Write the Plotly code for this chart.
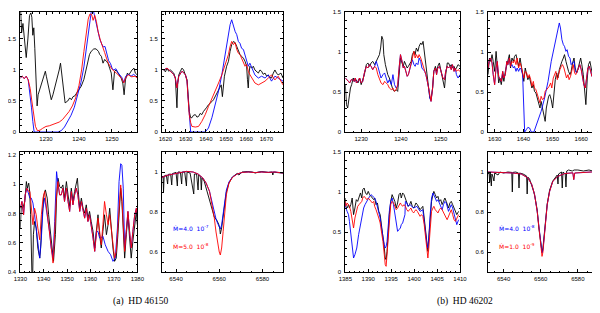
import plotly.graph_objects as go

# ---------------- data (wavelength in Angstrom, normalised flux) ----------------
# Panel 1: HD 46150, N V 1240
P1_OBS = [(1222.3,1.95),(1222.6,1.6),(1223.0,1.75),(1223.5,1.5),(1224.0,1.2),(1224.5,1.5),(1225.0,1.88),(1225.4,1.92),
          (1225.7,1.85),(1226.0,1.56),(1226.3,1.68),(1226.6,1.35),(1226.9,0.98),(1227.1,0.5),(1227.3,0.42),(1227.6,0.6),
          (1228.2,0.71),(1228.8,0.79),(1229.4,0.92),(1229.8,0.98),(1230.1,0.9),(1230.6,0.76),(1231.1,0.66),(1231.6,0.52),
          (1232.1,0.6),(1232.8,0.74),(1233.4,0.87),(1234.0,1.0),(1234.4,1.11),(1234.8,0.92),(1235.4,0.6),(1235.8,0.47),
          (1236.6,0.5),(1237.2,0.55),(1237.7,0.52),(1238.2,0.57),(1238.7,0.58),(1239.7,0.66),(1240.7,0.74),(1241.5,0.85),
          (1242.2,1.0),(1242.7,1.12),(1243.2,1.25),(1243.7,1.30),(1244.5,1.34),(1245.2,1.34),(1245.9,1.30),(1246.3,1.25),
          (1246.8,1.22),(1247.3,1.11),(1247.8,1.17),(1248.3,1.14),(1248.8,1.11),(1249.3,1.03),(1249.8,0.95),(1250.3,0.68),
          (1250.8,0.98),(1251.3,1.0),(1251.8,0.95),(1252.3,0.92),(1252.8,0.87),(1253.3,0.79),(1253.7,0.6),(1254.1,0.84),
          (1254.7,0.95),(1255.1,0.92),(1255.7,0.98),(1256.1,1.0),(1256.7,1.03),(1257.1,0.95),(1257.7,0.92)]
P1_HIGH = [(1222.2,0.87),(1222.8,0.9),(1223.4,0.86),(1224.0,0.9),(1224.6,0.84),(1225.2,0.6),(1225.6,0.39),(1226.0,0.17),
           (1226.4,0.0),(1233.6,0.0),(1234.6,0.02),(1235.6,0.08),(1236.6,0.17),(1237.6,0.27),(1238.6,0.4),(1239.6,0.58),
           (1240.6,0.8),(1241.5,1.05),(1242.2,1.35),(1242.8,1.62),(1243.3,1.85),(1243.8,1.97),(1244.4,1.95),(1245.0,1.8),
           (1245.6,1.65),(1246.3,1.5),(1246.9,1.42),(1247.4,1.37),(1247.9,1.38),(1248.5,1.25),(1249.0,1.15),(1249.6,1.1),
           (1250.1,1.02),(1250.6,1.0),(1251.2,1.02),(1251.8,0.96),(1252.4,0.92),(1253.0,0.88),(1253.6,0.8),(1254.2,0.9),
           (1255.0,0.93),(1255.8,0.9),(1256.6,0.93),(1257.7,0.88)]
P1_LOW = [(1222.2,0.87),(1222.8,0.9),(1223.4,0.86),(1224.0,0.9),(1224.6,0.84),(1225.2,0.7),(1225.7,0.5),(1226.2,0.28),
          (1226.8,0.09),(1227.4,0.02),(1228.2,0.03),(1229.0,0.06),(1230.0,0.09),(1231.0,0.1),(1232.0,0.12),(1233.0,0.13),
          (1234.0,0.16),(1235.0,0.2),(1236.0,0.26),(1237.0,0.33),(1238.0,0.42),(1239.0,0.55),(1240.0,0.75),(1240.8,1.0),
          (1241.5,1.3),(1242.2,1.6),(1242.8,1.82),(1243.3,1.9),(1243.8,1.9),(1244.3,1.8),(1244.8,1.88),(1245.3,1.78),
          (1245.8,1.62),(1246.5,1.48),(1247.2,1.35),(1247.8,1.28),(1248.4,1.18),(1249.0,1.1),(1249.8,1.03),(1250.6,0.98),
          (1251.4,0.95),(1252.2,0.9),(1253.0,0.86),(1253.6,0.79),(1254.2,0.88),(1255.0,0.92),(1256.0,0.89),(1257.0,0.9),
          (1257.7,0.87)]

# Panel 2: HD 46150, C IV 1550
P2_OBS = [(1619.2,1.0),(1620.0,0.97),(1620.8,1.03),(1621.6,0.98),(1622.5,1.0),(1623.3,0.97),(1624.1,0.95),(1624.9,0.87),
          (1625.3,0.6),(1625.7,0.39),(1626.1,0.8),(1626.6,0.92),(1627.4,0.98),(1628.2,1.03),(1629.0,1.0),(1629.9,0.92),
          (1630.7,0.84),(1631.1,0.66),(1631.8,0.33),(1632.5,0.23),(1633.1,0.23),(1633.9,0.27),(1634.8,0.28),(1635.6,0.24),
          (1636.4,0.25),(1637.2,0.3),(1638.0,0.28),(1638.8,0.33),(1639.7,0.36),(1640.5,0.4),(1641.3,0.44),(1642.2,0.46),
          (1643.0,0.49),(1643.8,0.52),(1644.6,0.57),(1645.4,0.6),(1646.3,0.66),(1647.0,0.72),(1647.6,0.76),(1648.2,0.57),
          (1648.7,0.8),(1649.2,0.9),(1650.3,1.06),(1651.2,1.14),(1652.0,1.3),(1652.8,1.41),(1653.7,1.46),(1654.5,1.44),
          (1655.3,1.38),(1656.1,1.3),(1656.9,1.25),(1657.7,1.22),(1658.6,1.19),(1659.4,1.14),(1660.2,1.06),(1660.6,0.85),
          (1661.0,0.71),(1661.4,0.95),(1661.8,1.06),(1662.7,1.03),(1663.5,1.06),(1664.3,1.0),(1665.1,0.97),(1666.0,0.95),
          (1666.8,1.0),(1667.6,0.98),(1668.4,0.93),(1669.3,0.95),(1670.1,0.9),(1670.9,0.92),(1671.7,0.88),(1672.5,0.87),
          (1673.4,0.95),(1674.2,1.0),(1675.0,0.95),(1675.8,0.92),(1677.2,0.95),(1678.2,0.87)]
P2_HIGH = [(1619.2,1.0),(1620.8,1.03),(1622.5,0.98),(1624.1,0.925),(1624.9,0.87),(1625.7,0.71),(1626.6,0.9),(1628.2,0.98),
           (1629.9,0.925),(1630.7,0.82),(1631.1,0.6),(1631.8,0.23),(1632.5,0.0),(1639.7,0.0),(1641.3,0.065),(1643.0,0.23),
           (1644.6,0.44),(1646.3,0.66),(1647.9,0.92),(1649.6,1.25),(1651.2,1.57),(1652.0,1.73),(1652.8,1.81),(1653.7,1.7),
           (1654.5,1.62),(1655.3,1.57),(1656.1,1.46),(1656.9,1.43),(1657.7,1.35),(1658.6,1.33),(1659.4,1.25),(1660.2,1.17),
           (1661.0,1.06),(1661.8,1.11),(1662.7,1.03),(1664.3,0.92),(1666.0,0.87),(1667.6,0.9),(1669.3,0.87),(1670.9,0.92),
           (1672.5,0.82),(1674.2,0.9),(1675.8,0.87),(1678.2,0.82)]
P2_LOW = [(1619.2,1.0),(1620.8,1.03),(1622.5,0.98),(1624.1,0.925),(1624.9,0.87),(1625.7,0.71),(1626.6,0.9),(1628.2,0.98),
          (1629.9,0.925),(1630.7,0.82),(1631.1,0.6),(1631.8,0.28),(1632.5,0.15),(1633.1,0.09),(1634.8,0.08),(1636.4,0.09),
          (1638.0,0.17),(1639.7,0.28),(1641.3,0.41),(1643.0,0.55),(1644.6,0.66),(1646.3,0.79),(1647.9,0.92),(1649.6,1.09),
          (1651.2,1.25),(1652.0,1.38),(1652.8,1.46),(1653.7,1.41),(1654.5,1.44),(1655.3,1.33),(1656.1,1.27),(1656.9,1.25),
          (1657.7,1.19),(1658.6,1.11),(1659.4,1.06),(1660.2,1.09),(1661.0,0.98),(1661.8,0.925),(1662.7,0.87),(1664.3,0.79),
          (1666.0,0.76),(1667.6,0.79),(1669.3,0.82),(1670.9,0.87),(1672.5,0.92),(1674.2,0.84),(1675.8,0.9),(1678.2,0.76)]

# Panel 3: HD 46150, 1330-1380
P3_OBS = [(1330.0,0.70),(1330.4,0.848),(1331.1,0.836),(1331.9,0.882),(1332.6,1.018),(1333.0,0.973),(1333.6,1.007),
          (1334.0,0.95),(1334.4,0.791),(1334.7,0.564),(1335.0,0.36),(1335.3,0.38),(1335.6,0.655),(1336.1,0.745),
          (1336.8,0.70),(1337.5,0.564),(1338.3,0.495),(1338.7,0.564),(1339.3,0.768),(1340.1,0.927),(1340.7,0.961),
          (1341.5,0.905),(1342.1,0.791),(1342.8,0.677),(1343.5,0.564),(1344.2,0.473),(1345.0,0.655),(1345.5,0.905),
          (1346.1,1.041),(1346.8,0.984),(1347.5,0.973),(1348.2,0.995),(1348.9,0.905),(1349.7,1.018),(1350.4,0.927),
          (1351.1,0.848),(1351.8,0.973),(1352.5,0.882),(1353.2,0.95),(1353.9,1.018),(1354.4,1.041),(1354.9,0.927),
          (1355.4,0.836),(1356.1,0.905),(1356.8,0.836),(1357.5,0.802),(1358.2,0.859),(1358.9,0.768),(1359.6,0.814),
          (1360.3,0.745),(1361.1,0.677),(1361.8,0.564),(1362.5,0.70),(1363.2,0.791),(1363.9,0.655),(1364.6,0.564),
          (1365.3,0.677),(1366.0,0.791),(1366.8,0.655),(1367.5,0.723),(1368.2,0.836),(1368.9,0.677),(1369.6,0.564),
          (1370.3,0.473),(1371.0,0.495),(1371.7,0.655),(1372.4,0.836),(1372.9,0.973),(1373.4,0.882),(1373.9,0.677),
          (1374.6,0.495),(1375.3,0.655),(1376.0,0.791),(1376.7,0.632),(1377.4,0.495),(1378.1,0.609),(1378.9,0.745),
          (1379.6,0.814),(1380.0,0.723)]
P3_HIGH = [(1330.0,0.836),(1330.7,0.882),(1331.4,0.791),(1332.1,0.927),(1332.8,0.973),(1333.6,0.927),(1334.1,0.905),
           (1334.7,0.905),(1335.4,0.871),(1336.1,0.791),(1336.8,0.70),(1337.5,0.586),(1338.3,0.495),(1339.0,0.632),
           (1339.7,0.836),(1340.4,0.905),(1341.1,0.836),(1341.8,0.745),(1342.5,0.677),(1343.2,0.564),(1344.0,0.495),
           (1344.7,0.745),(1345.2,1.0),(1345.5,1.086),(1346.1,1.0),(1346.8,0.927),(1347.5,0.927),(1348.2,0.973),
           (1348.9,0.882),(1349.7,0.973),(1350.4,0.882),(1351.1,0.814),(1351.8,0.95),(1352.5,0.859),(1353.2,0.927),
           (1353.9,0.973),(1354.6,0.927),(1355.4,0.814),(1356.1,0.882),(1356.8,0.814),(1357.5,0.768),(1358.2,0.836),
           (1358.9,0.745),(1359.6,0.791),(1360.3,0.723),(1361.1,0.632),(1361.8,0.541),(1362.5,0.677),(1363.2,0.677),
           (1363.9,0.632),(1364.3,0.632),(1365.3,0.645),(1366.3,0.586),(1367.5,0.541),(1368.6,0.518),(1369.6,0.473),
           (1370.6,0.495),(1371.5,0.70),(1372.2,1.018),(1372.9,1.14),(1373.4,1.13),(1374.0,0.973),(1374.6,0.564),
           (1375.3,0.677),(1376.0,0.814),(1376.7,0.677),(1377.4,0.564),(1378.1,0.677),(1378.9,0.791),(1379.6,0.836),
           (1380.0,0.791)]
P3_LOW = [(1330.0,0.836),(1330.7,0.882),(1331.4,0.791),(1332.1,0.927),(1332.8,0.973),(1333.6,0.95),(1334.1,0.95),
          (1334.7,0.859),(1335.4,0.723),(1336.1,0.836),(1336.8,0.791),(1337.5,0.70),(1338.3,0.62),(1339.0,0.791),
          (1339.7,0.905),(1340.4,0.95),(1341.1,0.859),(1341.8,0.745),(1342.5,0.677),(1343.2,0.564),(1344.0,0.461),
          (1344.7,0.677),(1345.4,0.905),(1346.1,1.018),(1346.8,0.927),(1347.5,0.927),(1348.2,0.973),(1348.9,0.882),
          (1349.7,0.973),(1350.4,0.882),(1351.1,0.814),(1351.8,0.95),(1352.5,0.859),(1353.2,0.927),(1353.9,0.973),
          (1354.6,0.927),(1355.4,0.814),(1356.1,0.882),(1356.8,0.814),(1357.5,0.768),(1358.2,0.836),(1358.9,0.745),
          (1359.6,0.791),(1360.3,0.723),(1361.1,0.632),(1361.8,0.541),(1362.5,0.677),(1363.2,0.768),(1363.9,0.677),
          (1364.6,0.586),(1365.3,0.723),(1366.0,0.882),(1366.8,0.791),(1367.5,0.723),(1368.2,0.791),(1368.9,0.677),
          (1369.6,0.586),(1370.3,0.495),(1371.0,0.541),(1371.7,0.70),(1372.4,0.859),(1372.9,0.995),(1373.4,0.905),
          (1373.9,0.70),(1374.6,0.541),(1375.3,0.677),(1376.0,0.814),(1376.7,0.677),(1377.4,0.564),(1378.1,0.677),
          (1378.9,0.791),(1379.6,0.836),(1380.0,0.791)]

# Panel 4: HD 46150, H alpha
P4_OBS = [(6533.5,0.975),(6534.0,0.98),(6534.2,0.9),(6534.5,0.98),(6535.5,0.985),(6536.1,0.94),(6536.4,0.988),
          (6537.5,0.99),(6538.0,0.935),(6538.3,0.992),(6540.0,0.998),(6540.6,0.93),(6540.9,1.0),(6542.0,1.0),
          (6542.6,0.94),(6542.9,1.0),(6544.0,1.0),(6544.8,0.93),(6545.1,1.0),(6546.5,0.995),(6548.2,0.89),(6548.5,0.99),
          (6549.5,0.99),(6550.2,0.91),(6550.5,0.985),(6551.4,0.975),(6551.7,0.91),(6552.0,0.97),(6553.0,0.955),
          (6553.9,0.92),(6555.5,0.86),(6556.7,0.82),(6557.7,0.775),(6558.8,0.76),(6559.7,0.74),(6560.2,0.72),
          (6560.5,0.69),(6561.1,0.72),(6561.8,0.787),(6562.6,0.853),(6563.3,0.9),(6564.5,0.945),(6566.1,0.975),
          (6568.3,0.993),(6569.1,0.985),(6570.6,1.0),(6572.9,1.002),(6575.2,1.0),(6576.7,0.995),(6578.2,1.0),
          (6579.7,1.002),(6582.7,0.998),(6584.5,1.0),(6584.8,0.985),(6585.1,1.0),(6587.0,0.997),(6589.5,0.995)]
P4_HIGH = [(6533.5,0.973),(6535.8,0.983),(6538.8,0.99),(6541.8,0.998),(6544.8,1.003),(6547.9,1.0),(6550.2,0.99),
           (6552.4,0.97),(6553.9,0.945),(6555.5,0.903),(6556.7,0.845),(6557.7,0.79),(6558.5,0.765),(6559.2,0.745),
           (6560.0,0.73),(6560.5,0.715),(6561.1,0.735),(6561.8,0.787),(6562.6,0.853),(6563.3,0.91),(6564.5,0.95),
           (6566.1,0.975),(6568.3,0.99),(6570.6,0.998),(6573.6,1.0),(6576.7,0.997),(6579.7,1.0),(6582.7,0.998),
           (6585.8,1.0),(6589.5,0.995)]
P4_LOW = [(6533.5,0.973),(6535.8,0.983),(6538.8,0.99),(6541.8,0.998),(6544.8,1.003),(6547.9,1.0),(6550.2,0.99),
          (6552.4,0.97),(6553.9,0.945),(6555.5,0.903),(6556.7,0.84),(6557.7,0.77),(6558.5,0.7),(6559.2,0.65),
          (6560.0,0.6),(6560.5,0.585),(6561.1,0.62),(6561.8,0.703),(6562.6,0.803),(6563.3,0.887),(6564.5,0.945),
          (6566.1,0.973),(6568.3,0.99),(6570.6,0.998),(6573.6,1.0),(6576.7,0.997),(6579.7,1.0),(6582.7,0.998),
          (6585.8,1.0),(6589.5,0.995)]

# Panel 5: HD 46202, N V 1240
P5_OBS = [(1226.0,0.59),(1226.3,0.342),(1226.6,0.3),(1227.0,0.467),(1227.3,0.55),(1227.6,0.592),(1228.0,0.675),
          (1228.3,0.633),(1228.7,0.654),(1229.2,0.613),(1229.6,0.675),(1230.0,0.592),(1230.4,0.654),(1230.8,0.717),
          (1231.3,0.842),(1231.7,0.863),(1232.1,0.821),(1232.5,0.863),(1232.9,0.883),(1233.4,0.842),(1233.8,0.883),
          (1234.2,0.925),(1234.6,0.967),(1234.9,1.05),(1235.2,1.196),(1235.5,1.154),(1235.7,0.967),(1236.1,0.842),
          (1236.4,0.758),(1236.7,0.717),(1237.1,0.675),(1237.6,0.592),(1238.0,0.529),(1238.4,0.508),(1238.8,0.529),
          (1239.2,0.508),(1239.6,0.717),(1239.9,0.925),(1240.3,0.863),(1240.6,0.821),(1240.9,0.883),(1241.3,0.842),
          (1241.6,0.8),(1241.9,0.821),(1242.3,0.863),(1242.6,0.883),(1242.9,0.967),(1243.3,1.008),(1243.6,0.967),
          (1243.9,1.05),(1244.3,1.008),(1244.6,1.071),(1245.0,1.113),(1245.3,1.092),(1245.6,1.133),(1246.0,0.967),
          (1246.3,0.821),(1246.6,0.717),(1247.0,0.592),(1247.3,0.425),(1247.6,0.404),(1248.0,0.55),(1248.3,0.758),
          (1248.7,0.821),(1249.0,0.758),(1249.3,0.821),(1249.7,0.863),(1250.0,0.8),(1250.3,0.717),(1250.6,0.654),
          (1251.0,0.55),(1251.3,0.717),(1251.7,0.863),(1252.0,0.863),(1252.4,0.821),(1252.7,0.842),(1253.0,0.8),
          (1253.4,0.821),(1253.7,0.779),(1254.0,0.8),(1254.4,0.842),(1254.9,0.821)]
P5_HIGH = [(1226.0,0.675),(1226.5,0.654),(1226.8,0.633),(1227.1,0.613),(1227.5,0.654),(1227.8,0.654),(1228.2,0.633),
           (1228.5,0.675),(1228.8,0.613),(1229.2,0.633),(1229.6,0.675),(1230.0,0.613),(1230.4,0.633),(1230.8,0.738),
           (1231.3,0.821),(1231.7,0.8),(1232.1,0.842),(1232.5,0.821),(1232.9,0.779),(1233.4,0.821),(1233.8,0.883),
           (1234.2,0.821),(1234.6,0.758),(1235.0,0.675),(1235.5,0.717),(1235.9,0.738),(1236.3,0.675),(1236.7,0.613),
           (1237.1,0.654),(1237.6,0.592),(1238.0,0.717),(1238.4,0.592),(1238.8,0.55),(1239.2,0.571),(1239.6,0.821),
           (1239.9,0.967),(1240.3,0.883),(1240.6,0.8),(1240.9,0.821),(1241.3,0.758),(1241.6,0.696),(1241.9,0.717),
           (1242.3,0.8),(1242.6,0.863),(1242.9,0.904),(1243.3,0.842),(1243.6,0.821),(1243.9,0.863),(1244.3,0.842),
           (1244.6,0.925),(1245.0,0.883),(1245.3,0.8),(1245.6,0.779),(1246.0,0.758),(1246.3,0.717),(1246.6,0.654),
           (1247.0,0.55),(1247.3,0.425),(1247.6,0.383),(1248.0,0.55),(1248.3,0.758),(1248.7,0.8),(1249.0,0.717),
           (1249.3,0.8),(1249.7,0.821),(1250.0,0.779),(1250.3,0.717),(1250.6,0.675),(1251.0,0.654),(1251.3,0.758),
           (1251.7,0.821),(1252.0,0.8),(1252.4,0.821),(1252.7,0.779),(1253.0,0.842),(1253.4,0.758),(1253.7,0.8),
           (1254.0,0.717),(1254.4,0.675),(1254.9,0.717)]
P5_LOW = [(1226.0,0.675),(1226.5,0.654),(1226.8,0.633),(1227.1,0.613),(1227.5,0.654),(1227.8,0.654),(1228.2,0.633),
          (1228.5,0.675),(1228.8,0.613),(1229.2,0.633),(1229.6,0.675),(1230.0,0.613),(1230.4,0.633),(1230.8,0.738),
          (1231.3,0.821),(1231.7,0.8),(1232.1,0.842),(1232.5,0.821),(1232.9,0.779),(1233.4,0.821),(1233.8,0.8),
          (1234.2,0.717),(1234.6,0.654),(1235.0,0.613),(1235.5,0.592),(1235.9,0.633),(1236.3,0.613),(1236.7,0.592),
          (1237.1,0.55),(1237.6,0.529),(1238.0,0.55),(1238.4,0.508),(1238.8,0.529),(1239.2,0.592),(1239.6,0.821),
          (1239.9,0.967),(1240.3,0.883),(1240.6,0.8),(1240.9,0.821),(1241.3,0.758),(1241.6,0.696),(1241.9,0.717),
          (1242.3,0.8),(1242.6,0.863),(1242.9,0.904),(1243.3,1.008),(1243.6,0.925),(1243.9,0.967),(1244.3,0.925),
          (1244.6,0.967),(1245.0,0.925),(1245.3,0.883),(1245.6,0.821),(1246.0,0.779),(1246.3,0.717),(1246.6,0.654),
          (1247.0,0.55),(1247.3,0.425),(1247.6,0.383),(1248.0,0.55),(1248.3,0.758),(1248.7,0.8),(1249.0,0.717),
          (1249.3,0.8),(1249.7,0.821),(1250.0,0.779),(1250.3,0.717),(1250.6,0.675),(1251.0,0.654),(1251.3,0.758),
          (1251.7,0.821),(1252.0,0.8),(1252.4,0.821),(1252.7,0.779),(1253.0,0.842),(1253.4,0.758),(1253.7,0.8),
          (1254.0,0.758),(1254.4,0.779),(1254.9,0.758)]

# Panel 6: HD 46202, C IV 1550
P6_OBS = [(1627.7,0.717),(1628.2,0.925),(1628.6,0.883),(1629.1,0.967),(1629.5,0.883),(1630.0,0.758),(1630.5,1.008),
          (1630.9,0.8),(1631.4,0.613),(1631.8,0.675),(1632.3,0.592),(1632.8,0.717),(1633.2,0.633),(1633.7,0.758),
          (1634.2,0.842),(1634.6,0.883),(1635.1,0.967),(1635.5,0.8),(1636.0,0.925),(1636.5,0.883),(1636.9,0.946),
          (1637.4,0.967),(1637.8,0.883),(1638.3,0.821),(1638.8,0.925),(1639.2,0.842),(1639.7,0.758),(1640.1,0.633),
          (1640.6,0.8),(1641.1,0.717),(1641.5,0.654),(1642.0,0.696),(1642.5,0.613),(1642.9,0.55),(1643.4,0.592),
          (1643.8,0.508),(1644.3,0.488),(1644.8,0.425),(1645.2,0.342),(1645.7,0.3),(1646.1,0.383),(1646.6,0.3),
          (1647.1,0.217),(1647.5,0.133),(1647.9,0.3),(1648.2,0.363),(1648.7,0.446),(1649.1,0.467),(1649.6,0.404),
          (1650.1,0.3),(1650.5,0.508),(1651.0,0.654),(1651.5,0.738),(1651.9,0.675),(1652.4,0.779),(1652.8,0.842),
          (1653.3,0.883),(1653.8,0.925),(1654.2,0.967),(1654.7,0.883),(1655.1,0.821),(1655.6,0.758),(1656.1,0.717),
          (1656.5,0.758),(1657.0,0.863),(1657.5,0.925),(1657.9,0.8),(1658.4,0.738),(1658.8,0.779),(1659.3,0.842),
          (1659.8,0.925),(1660.2,0.842),(1660.7,0.717),(1661.1,0.55),(1661.6,0.342),(1662.1,0.675),(1662.5,0.842),
          (1663.0,0.883),(1663.4,0.8),(1663.9,0.717),(1664.4,0.8),(1664.8,0.863),(1665.3,0.717),(1665.8,0.633),
          (1666.2,0.8),(1666.7,0.904),(1667.1,0.863),(1667.6,0.717),(1668.1,0.592),(1668.4,0.508)]
P6_HIGH = [(1627.7,0.8),(1628.2,0.904),(1628.6,0.925),(1629.1,0.863),(1629.5,0.717),(1630.0,0.592),(1630.5,0.8),
           (1630.9,0.883),(1631.4,0.696),(1631.8,0.675),(1632.3,0.633),(1632.8,0.758),(1633.2,0.675),(1633.7,0.717),
           (1634.2,0.883),(1634.6,0.842),(1635.1,0.925),(1635.5,0.821),(1636.0,0.842),(1636.5,0.8),(1636.9,0.821),
           (1637.4,0.758),(1637.8,0.8),(1638.3,0.758),(1638.8,0.8),(1639.2,0.779),(1639.7,0.717),(1639.9,0.5),
           (1640.1,0.2),(1640.4,0.0),(1641.0,0.03),(1641.5,0.058),(1642.1,0.05),(1642.7,0.0),(1643.6,0.0),
           (1644.1,0.05),(1645.0,0.133),(1646.1,0.258),(1647.3,0.425),(1648.5,0.633),(1649.6,0.883),(1650.8,1.092),
           (1651.7,1.258),(1652.4,1.363),(1652.8,1.3),(1653.3,1.154),(1653.8,1.092),(1654.2,1.071),(1654.7,1.008),
           (1655.1,1.029),(1655.6,0.946),(1656.1,0.925),(1656.5,0.842),(1657.0,0.863),(1657.5,0.883),(1657.9,0.758),
           (1658.4,0.738),(1658.6,0.758),(1659.1,0.8),(1659.5,0.842),(1660.0,0.779),(1660.4,0.696),(1660.9,0.592),
           (1661.4,0.55),(1661.8,0.675),(1662.3,0.8),(1662.8,0.821),(1663.2,0.758),(1663.7,0.696),(1664.1,0.758),
           (1664.6,0.821),(1665.1,0.738),(1665.5,0.654),(1666.0,0.758),(1666.4,0.842),(1666.9,0.883),(1667.4,0.738),
           (1667.8,0.55),(1668.4,0.467)]
P6_LOW = [(1627.7,0.8),(1628.2,0.904),(1628.6,0.925),(1629.1,0.863),(1629.5,0.717),(1630.0,0.592),(1630.5,0.8),
          (1630.9,0.883),(1631.4,0.696),(1631.8,0.675),(1632.3,0.633),(1632.8,0.758),(1633.2,0.675),(1633.7,0.717),
          (1634.2,0.883),(1634.6,0.842),(1635.1,0.925),(1635.5,0.821),(1636.0,0.883),(1636.5,0.863),(1636.9,0.904),
          (1637.4,0.842),(1637.8,0.925),(1638.3,0.8),(1638.8,0.863),(1639.2,0.821),(1639.7,0.758),(1640.1,0.675),
          (1640.6,0.758),(1641.1,0.738),(1641.5,0.675),(1642.0,0.717),(1642.5,0.654),(1642.9,0.571),(1643.4,0.633),
          (1643.8,0.55),(1644.3,0.529),(1644.8,0.467),(1645.2,0.425),(1645.7,0.363),(1646.1,0.446),(1646.6,0.404),
          (1647.1,0.425),(1647.5,0.508),(1648.0,0.529),(1648.5,0.55),(1648.9,0.571),(1649.4,0.613),(1649.8,0.55),
          (1650.3,0.675),(1650.8,0.717),(1651.2,0.758),(1651.7,0.654),(1652.1,0.717),(1652.6,0.779),(1653.1,0.821),
          (1653.5,0.842),(1654.0,0.8),(1654.5,0.738),(1654.9,0.675),(1655.4,0.717),(1655.8,0.654),(1656.3,0.696),
          (1656.8,0.8),(1657.2,0.842),(1657.7,0.738),(1658.1,0.717),(1658.6,0.758),(1659.1,0.8),(1659.5,0.842),
          (1660.0,0.779),(1660.4,0.696),(1660.9,0.592),(1661.4,0.55),(1661.8,0.675),(1662.3,0.8),(1662.8,0.821),
          (1663.2,0.758),(1663.7,0.696),(1664.1,0.758),(1664.6,0.821),(1665.1,0.738),(1665.5,0.654),(1666.0,0.758),
          (1666.4,0.842),(1666.9,0.883),(1667.4,0.738),(1667.8,0.55),(1668.4,0.467)]

# Panel 7: HD 46202, Si IV 1394/1403
P7_OBS = [(1385.0,0.925),(1385.1,0.821),(1385.4,0.8),(1385.7,0.842),(1385.9,0.8),(1386.2,0.842),(1386.5,0.925),
          (1386.8,0.717),(1387.1,0.8),(1387.4,0.904),(1387.7,0.883),(1388.0,0.946),(1388.3,0.988),(1388.6,0.925),
          (1388.8,1.029),(1389.1,1.05),(1389.4,0.988),(1389.7,0.967),(1390.0,1.008),(1390.3,0.967),(1390.6,0.946),
          (1390.9,0.925),(1391.2,0.904),(1391.4,0.925),(1391.7,0.842),(1392.0,0.863),(1392.3,0.758),(1392.6,0.717),
          (1392.9,0.592),(1393.2,0.467),(1393.5,0.3),(1393.7,0.175),(1393.9,0.154),(1394.1,0.258),(1394.3,0.467),
          (1394.6,0.717),(1394.9,0.883),(1395.2,0.967),(1395.5,0.925),(1395.8,0.883),(1396.1,0.8),(1396.4,0.863),
          (1396.7,0.967),(1397.0,0.988),(1397.2,0.925),(1397.5,0.988),(1397.8,0.967),(1398.1,0.925),(1398.4,0.883),
          (1398.7,0.821),(1399.0,0.842),(1399.3,0.883),(1399.6,0.821),(1399.9,0.8),(1400.1,0.821),(1400.4,0.863),
          (1400.7,0.842),(1401.0,0.8),(1401.3,0.779),(1401.6,0.8),(1401.9,0.821),(1402.2,0.675),(1402.5,0.508),
          (1402.8,0.342),(1403.0,0.258),(1403.2,0.425),(1403.5,0.717),(1403.8,0.883),(1404.1,0.967),(1404.3,1.008),
          (1404.6,0.967),(1404.9,0.925),(1405.2,0.946),(1405.5,0.883),(1405.8,0.904),(1406.1,0.842),(1406.4,0.883),
          (1406.7,0.925),(1407.0,0.883),(1407.2,0.842),(1407.5,0.8),(1407.8,0.863),(1408.1,0.883),(1408.4,0.842),
          (1408.7,0.8),(1409.0,0.758),(1409.3,0.717),(1409.7,0.758)]
P7_HIGH = [(1385.0,0.863),(1385.1,0.8),(1385.4,0.758),(1385.7,0.717),(1385.9,0.633),(1386.2,0.467),(1386.5,0.3),
           (1386.8,0.175),(1387.1,0.217),(1387.5,0.3),(1387.9,0.467),(1388.3,0.592),(1388.6,0.717),(1389.0,0.8),
           (1389.3,0.842),(1389.7,0.883),(1390.0,0.925),(1390.3,0.946),(1390.6,0.967),(1390.9,0.946),(1391.2,0.925),
           (1391.4,0.925),(1391.7,0.883),(1392.0,0.821),(1392.3,0.758),(1392.6,0.675),(1392.9,0.55),(1393.2,0.425),
           (1393.5,0.342),(1393.7,0.3),(1393.9,0.321),(1394.1,0.383),(1394.3,0.55),(1394.6,0.758),(1394.9,0.883),
           (1395.2,0.925),(1395.5,0.842),(1395.8,0.717),(1396.1,0.633),(1396.4,0.508),(1396.7,0.529),(1397.0,0.55),
           (1397.2,0.592),(1397.5,0.613),(1397.8,0.675),(1398.0,0.717),(1398.1,0.883),(1398.4,0.863),(1398.7,0.821),
           (1399.1,0.842),(1399.9,0.8),(1400.6,0.821),(1401.3,0.758),(1401.9,0.779),(1402.2,0.633),(1402.5,0.467),
           (1402.8,0.342),(1403.0,0.3),(1403.2,0.425),(1403.5,0.717),(1403.8,0.925),(1404.1,0.988),(1404.3,0.967),
           (1404.6,0.925),(1404.9,0.883),(1405.2,0.904),(1405.5,0.863),(1405.8,0.821),(1406.1,0.779),(1406.4,0.842),
           (1406.7,0.883),(1407.0,0.863),(1407.2,0.821),(1407.5,0.758),(1407.8,0.8),(1408.1,0.842),(1408.4,0.8),
           (1408.7,0.738),(1409.0,0.654),(1409.3,0.592),(1409.7,0.654)]
P7_LOW = [(1385.0,0.883),(1385.1,0.821),(1385.4,0.863),(1385.7,0.842),(1385.9,0.821),(1386.2,0.758),(1386.5,0.654),
          (1386.8,0.55),(1387.1,0.675),(1387.4,0.758),(1387.7,0.821),(1388.0,0.842),(1388.3,0.863),(1388.6,0.883),
          (1388.8,0.925),(1389.1,0.946),(1389.4,0.925),(1389.7,0.904),(1390.0,0.925),(1390.3,0.904),(1390.6,0.883),
          (1390.9,0.863),(1391.2,0.883),(1391.4,0.821),(1391.7,0.779),(1392.0,0.738),(1392.3,0.675),(1392.6,0.613),
          (1392.9,0.508),(1393.2,0.383),(1393.5,0.217),(1393.7,0.092),(1393.9,0.071),(1394.1,0.217),(1394.3,0.425),
          (1394.6,0.675),(1394.9,0.842),(1395.2,0.883),(1395.5,0.863),(1395.8,0.821),(1396.1,0.779),(1396.4,0.8),
          (1396.7,0.842),(1397.0,0.863),(1397.2,0.842),(1397.5,0.821),(1397.8,0.842),(1398.1,0.821),(1398.4,0.779),
          (1398.7,0.758),(1399.0,0.779),(1399.3,0.8),(1399.6,0.758),(1399.9,0.738),(1400.1,0.758),(1400.4,0.779),
          (1400.7,0.758),(1401.0,0.717),(1401.3,0.696),(1401.6,0.717),(1401.9,0.696),(1402.2,0.592),(1402.5,0.425),
          (1402.8,0.258),(1403.0,0.175),(1403.2,0.3),(1403.5,0.592),(1403.8,0.758),(1404.1,0.8),(1404.3,0.821),
          (1404.6,0.779),(1404.9,0.758),(1405.2,0.738),(1405.5,0.779),(1405.8,0.8),(1406.1,0.779),(1406.4,0.738),
          (1406.7,0.717),(1407.0,0.675),(1407.2,0.654),(1407.5,0.696),(1407.8,0.738),(1408.1,0.779),(1408.4,0.717),
          (1408.7,0.654),(1409.0,0.633),(1409.3,0.675),(1409.7,0.717)]

# Panel 8: HD 46202, H alpha
P8_OBS = [(6531.6,0.99),(6532.2,0.995),(6532.5,0.95),(6532.8,0.995),(6533.4,0.93),(6533.7,0.99),(6534.3,0.975),
          (6534.8,0.955),(6535.2,0.995),(6537.0,0.985),(6538.0,1.0),(6540.0,0.995),(6542.3,1.0),(6544.4,0.998),
          (6544.7,0.9),(6545.0,0.998),(6546.5,1.0),(6548.0,0.995),(6548.3,0.92),(6548.6,0.995),(6550.5,0.99),
          (6552.4,0.98),(6552.7,0.89),(6553.0,0.975),(6554.0,0.965),(6555.2,0.935),(6556.3,0.9),(6557.0,0.87),
          (6558.1,0.81),(6559.0,0.72),(6559.7,0.66),(6560.3,0.625),(6560.7,0.6),(6561.2,0.62),(6561.5,0.65),
          (6562.4,0.74),(6563.5,0.84),(6564.8,0.91),(6566.5,0.955),(6568.9,0.985),(6569.3,0.94),(6569.6,0.99),
          (6571.2,1.0),(6571.6,0.92),(6572.0,1.0),(6573.2,0.99),(6573.6,0.925),(6574.0,1.005),(6575.0,1.01),
          (6577.0,1.005),(6578.0,1.01),(6580.0,1.01),(6583.0,1.005),(6586.0,1.01),(6590.0,1.0),(6594.9,1.0)]
P8_HIGH = [(6531.6,1.0),(6538.0,0.998),(6545.0,0.995),(6549.5,0.99),(6553.1,0.97),(6555.2,0.937),(6556.7,0.887),
           (6558.1,0.803),(6559.0,0.72),(6559.7,0.66),(6560.3,0.62),(6560.7,0.595),(6561.2,0.61),(6561.5,0.64),
           (6562.4,0.737),(6563.5,0.837),(6564.8,0.903),(6566.5,0.953),(6569.2,0.978),(6572.8,0.992),(6577.3,0.996),
           (6577.8,0.962),(6578.3,0.995),(6587.2,1.0),(6594.9,1.0)]
P8_LOW = [(6531.6,1.0),(6538.0,0.998),(6545.0,0.995),(6549.5,0.99),(6553.1,0.97),(6555.2,0.937),(6556.7,0.887),
          (6558.1,0.803),(6559.0,0.715),(6559.7,0.65),(6560.3,0.605),(6560.7,0.578),(6561.2,0.6),(6561.5,0.637),
          (6562.4,0.737),(6563.5,0.837),(6564.8,0.903),(6566.5,0.953),(6569.2,0.978),(6572.8,0.992),(6577.3,0.996),
          (6577.8,0.962),(6578.3,0.995),(6587.2,1.0),(6594.9,1.0)]

MDOT_LABELS_A = ["Ṁ=4.0  10<sup>-7</sup>", "Ṁ=5.0  10<sup>-8</sup>"]
MDOT_LABELS_B = ["Ṁ=4.0  10<sup>-8</sup>", "Ṁ=1.0  10<sup>-9</sup>"]
CAPTIONS = ["(a)  HD 46150", "(b)  HD 46202"]

# ---------------- layout helpers ----------------
W, H = 600, 313
def dx(a, b):
    return [a / W, b / W]
def dy(top, bottom):
    return [1 - bottom / H, 1 - top / H]

# (xdomain, ydomain, xrange, yrange, xdtick, xminor, ydtick, yminor, data)
PANELS = [
    (dx(12.3, 129.3), dy(4, 124), [1222.2, 1257.7], [0, 1.935], 10, 2, 0.5, 0.1, (P1_OBS, P1_HIGH, P1_LOW)),
    (dx(154, 275), dy(4, 124), [1618.3, 1678.2], [0, 1.935], 10, 2, 0.5, 0.1, (P2_OBS, P2_HIGH, P2_LOW)),
    (dx(12.3, 129.3), dy(144, 264), [1330, 1380], [0.4, 1.22], 10, 2, 0.2, 0.05, (P3_OBS, P3_HIGH, P3_LOW)),
    (dx(154, 275), dy(144, 264), [6533.5, 6589.5], [0.5, 1.1], 20, 5, 0.2, 0.05, (P4_OBS, P4_HIGH, P4_LOW)),
    (dx(337.3, 452), dy(4, 124), [1226.0, 1254.9], [0, 1.5], 10, 2, 0.5, 0.1, (P5_OBS, P5_HIGH, P5_LOW)),
    (dx(480, 597.5), dy(4, 124), [1627.7, 1668.4], [0, 1.5], 10, 2, 0.5, 0.1, (P6_OBS, P6_HIGH, P6_LOW)),
    (dx(337.3, 452), dy(144, 264), [1385, 1410], [0, 1.5], 5, 1, 0.5, 0.1, (P7_OBS, P7_HIGH, P7_LOW)),
    (dx(480, 597.5), dy(144, 264), [6531.6, 6594.9], [0.5, 1.1], 20, 5, 0.2, 0.05, (P8_OBS, P8_HIGH, P8_LOW)),
]

COLORS = ["#000000", "#0000ff", "#ff0000"]
TICKFONT = dict(family="Liberation Sans", size=6, color="black")

fig = go.Figure()
layout = {}
for i, (xd, yd, xr, yr, xdt, xmn, ydt, ymn, series) in enumerate(PANELS):
    n = "" if i == 0 else str(i + 1)
    for s, col in zip(series, COLORS):
        fig.add_trace(go.Scatter(
            x=[p[0] for p in s], y=[p[1] for p in s], mode="lines",
            line=dict(color=col, width=0.9), xaxis="x" + n, yaxis="y" + n,
            showlegend=False, hoverinfo="skip"))
    common = dict(showline=True, linecolor="black", linewidth=1, mirror="allticks",
                  ticks="inside", ticklen=3, tickwidth=0.8, tickcolor="black",
                  showgrid=False, zeroline=False, tickfont=TICKFONT, fixedrange=True,
                  automargin=False)
    layout["xaxis" + n] = dict(domain=xd, range=xr, anchor="y" + n, dtick=xdt, tick0=0,
                               minor=dict(ticks="inside", ticklen=1.5, dtick=xmn, tick0=0,
                                          tickcolor="black", tickwidth=0.6, showgrid=False),
                               ticklabelstandoff=1, **common)
    layout["yaxis" + n] = dict(domain=yd, range=yr, anchor="x" + n, dtick=ydt, tick0=0,
                               minor=dict(ticks="inside", ticklen=1.5, dtick=ymn, tick0=0,
                                          tickcolor="black", tickwidth=0.6, showgrid=False),
                               ticklabelstandoff=2, **common)

annotations = []
for axn, xpos, labels in (("4", 6537.8, MDOT_LABELS_A), ("8", 6536.5, MDOT_LABELS_B)):
    for lab, ypos, col in zip(labels, (0.72, 0.632), ("#0000ff", "#ff0000")):
        annotations.append(dict(x=xpos, y=ypos, xref="x" + axn, yref="y" + axn, text=lab,
                                showarrow=False, xanchor="left", yanchor="middle",
                                font=dict(family="DejaVu Sans", size=6, color=col)))
for cap, xc in zip(CAPTIONS, (132 / W, 457 / W)):
    annotations.append(dict(x=xc, y=1 - 293 / H, xref="paper", yref="paper", text=cap,
                            showarrow=False, xanchor="center", yanchor="middle",
                            font=dict(family="Liberation Serif", size=9.5, color="black")))

fig.update_layout(width=W, height=H, margin=dict(l=0, r=0, t=0, b=0),
                  paper_bgcolor="white", plot_bgcolor="white",
                  annotations=annotations, **layout)
fig.write_html("out.html", config={"displayModeBar": False})
